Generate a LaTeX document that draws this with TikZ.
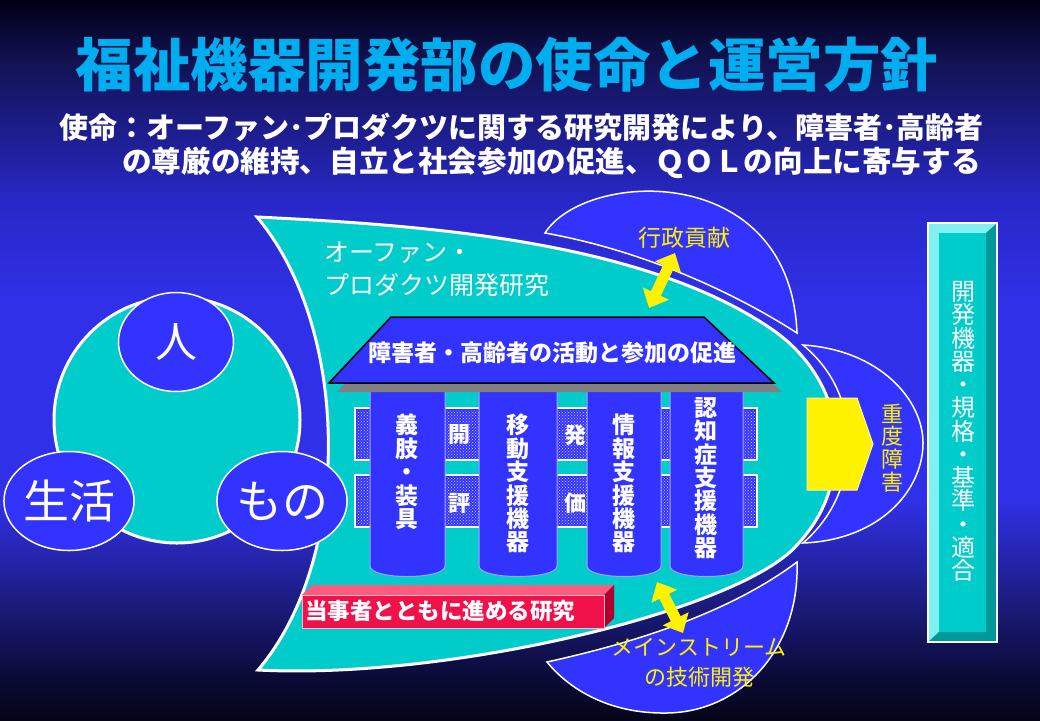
\documentclass[tikz,border=0pt]{standalone}
\usepackage{fontspec}
\setmainfont{Noto Sans CJK JP}
\usetikzlibrary{arrows.meta,patterns,shapes.geometric}
\setlength{\lineskiplimit}{-10pt}
\definecolor{bgtop}{HTML}{000018}
\definecolor{bgtA}{HTML}{06062A}
\definecolor{bgtB}{HTML}{121252}
\definecolor{bgtC}{HTML}{2828C8}
\definecolor{bgmid}{HTML}{3030E8}
\definecolor{bgbB}{HTML}{1C1C80}
\definecolor{bgbA}{HTML}{0A0A35}
\definecolor{bgbot}{HTML}{050518}
\definecolor{aqua}{HTML}{00CCCC}
\definecolor{royal}{HTML}{3333FF}
\definecolor{redface}{HTML}{F0104A}
\definecolor{redtop}{HTML}{FF5A80}
\definecolor{redside}{HTML}{B0002E}
\definecolor{teallight}{HTML}{80F0F0}
\definecolor{tealdark}{HTML}{009999}
\pgfdeclareverticalshading{bgshade}{100bp}{color(0bp)=(bgbot); color(25bp)=(bgbot); color(27.8bp)=(bgbA); color(33.3bp)=(bgbB); color(40.3bp)=(bgmid); color(54bp)=(bgmid); color(61bp)=(bgtC); color(70.8bp)=(bgtB); color(73.6bp)=(bgtA); color(75bp)=(bgtop); color(100bp)=(bgtop)}
\tikzset{
  lobe/.style={fill=royal,draw=white,line width=1.5},
  bubble/.style={ellipse,fill=royal,draw=white,line width=1.5,minimum width=115,minimum height=99,text=white,inner sep=0pt},
  pillar/.style={fill=royal,draw=white!55!royal,line width=1},
  vlabel/.style={text=white,font=\bfseries\fontsize{23}{23.4}\selectfont,align=center,inner sep=0pt,anchor=north},
  panelchar/.style={text=white,font=\bfseries\fontsize{22}{24}\selectfont,inner sep=0pt},
  yarrow/.style={draw=yellow,line width=11,{Triangle[length=16pt,width=28pt]}-{Triangle[length=16pt,width=28pt]}},
  ylabel/.style={text=yellow,inner sep=0pt,align=center}
}
\begin{document}
\begin{tikzpicture}[x=1pt,y=-1pt]
  \useasboundingbox (0,0) rectangle (1040,720);
  \shade[shading=bgshade] (0,0) rectangle (1040,720);
  \node[text=cyan,font=\bfseries\fontsize{57.5}{60}\selectfont,inner sep=0pt] (title) at (507,65) {福祉機器開発部の使命と運営方針};
  \node[text=white,font=\bfseries\fontsize{29}{30}\selectfont,anchor=west,inner sep=0pt] (mission1) at (59,127) {使命：オーファン･プロダクツに関する研究開発により、障害者･高齢者};
  \node[text=white,font=\bfseries\fontsize{29.6}{31}\selectfont,anchor=west,inner sep=0pt] (mission2) at (122,163) {の尊厳の維持、自立と社会参加の促進、ＱＯＬの向上に寄与する};

  \filldraw[lobe] (545,233) .. controls (585,170) and (790,160) .. (797,333) .. controls (730,290) and (640,250) .. (545,233) -- cycle;
  \filldraw[lobe] (803,345) .. controls (880,350) and (923,400) .. (923,443) .. controls (923,490) and (880,540) .. (803,543) .. controls (835,515) and (848,480) .. (848,443) .. controls (848,405) and (835,372) .. (803,345) -- cycle;
  \filldraw[lobe] (547,662) .. controls (610,648) and (720,620) .. (797,562) .. controls (800,650) and (740,712) .. (667,713) .. controls (610,714) and (570,690) .. (547,662) -- cycle;

  \filldraw[fill=aqua,draw=white,line width=3] (257,217) .. controls (420,225) and (640,240) .. (770,328) .. controls (812,356) and (836,400) .. (836,443) .. controls (836,490) and (820,520) .. (797,545) .. controls (740,610) and (450,680) .. (258,670) .. controls (352,560) and (352,330) .. (257,217) -- cycle;

  \foreach \ya/\yb in {408/460,475/527} {
    \filldraw[fill=royal,draw=white,line width=2] (355,\ya) rectangle (757,\yb);
    \fill[pattern=crosshatch dots,pattern color=white!80!royal] (357,\ya+2) rectangle (755,\yb-2);
  }
  \foreach \xa/\xb in {370/445,479/557,587/661,670/743}
    \filldraw[pillar] (\xa,390) -- (\xa,566) .. controls (\xa,580) and (\xb,580) .. (\xb,566) -- (\xb,390) -- cycle;

  \fill[gray] (399,326) -- (712,326) -- (782,392) -- (337,392) -- cycle;
  \filldraw[fill=royal,draw=black,line width=1.5] (391,317) -- (704,317) -- (774,383) -- (329,383) -- cycle;
  \node[text=white,font=\bfseries\fontsize{23}{25}\selectfont,inner sep=0pt] (roofline) at (552,353) {障害者・高齢者の活動と参加の促進};
  \node[text=white,font=\fontsize{25}{33}\selectfont,align=left,anchor=north west,inner sep=0pt] (orphan) at (324,242) {オーファン・\\プロダクツ開発研究};

  \node[vlabel] (gishi) at (407,414) {義\\肢\\・\\装\\具};
  \node[vlabel] (ido) at (518,414) {移\\動\\支\\援\\機\\器};
  \node[vlabel] (joho) at (624,414) {情\\報\\支\\援\\機\\器};
  \node[vlabel] (ninchi) at (706,397) {認\\知\\症\\支\\援\\機\\器};
  \node[panelchar] (kai) at (459,435) {開};
  \node[panelchar] (hyo) at (459,503) {評};
  \node[panelchar] (hatsu) at (575,435) {発};
  \node[panelchar] (ka) at (575,503) {価};

  \coordinate (gyA) at (675,253);
  \coordinate (gyB) at (649,308);
  \coordinate (mnA) at (657,582);
  \coordinate (mnB) at (683,633);
  \draw[yarrow] (gyA) -- (gyB);
  \draw[yarrow] (mnA) -- (mnB);
  \node[ylabel,font=\fontsize{23}{25}\selectfont] (gyosei) at (684,238) {行政貢献};
  \node[ylabel,font=\fontsize{22}{30}\selectfont] (mainstream) at (699,663) {メインストリーム\\の技術開発};

  \filldraw[fill=yellow,draw=white!60!yellow,line width=1] (807,398) -- (857,398) -- (873,444) -- (857,490) -- (807,490) -- cycle;
  \node[ylabel,font=\fontsize{22}{22.7}\selectfont] (jyudo) at (892,448) {重\\度\\障\\害};

  \fill[redtop] (302,595) -- (312,585) -- (614,585) -- (604,595) -- cycle;
  \fill[redside] (604,595) -- (614,585) -- (614,618) -- (604,628) -- cycle;
  \filldraw[fill=redface,draw=white!70!redface,line width=1] (302,595) rectangle (604,628);
  \node[text=white,font=\bfseries\fontsize{22.5}{24}\selectfont,anchor=west,inner sep=0pt] (tojisha) at (305,611.5) {当事者とともに進める研究};

  \fill[teallight] (928,223) rectangle (997,642);
  \fill[tealdark] (997,223) -- (997,642) -- (928,642) -- (939,632) -- (986,632) -- (986,233) -- cycle;
  \fill[aqua] (939,233) rectangle (986,632);
  \draw[white,line width=1.5] (928,223) rectangle (997,642);
  \node[text=white,font=\fontsize{24}{23.25}\selectfont,align=center,inner sep=0pt] (kikaku) at (963,431.5) {開\\発\\機\\器\\・\\規\\格\\・\\基\\準\\・\\適\\合};

  \node[circle,fill=aqua,draw=white,line width=3,minimum size=246,inner sep=0pt] (ring) at (177,420) {};
  \node[bubble,font=\fontsize{42}{44}\selectfont] (hito) at (176,342) {人};
  \node[bubble,font=\fontsize{46}{48}\selectfont] (seikatsu) at (69,501) {生活};
  \node[bubble,font=\fontsize{46}{48}\selectfont] (mono) at (282,501) {もの};
\end{tikzpicture}
\end{document}
